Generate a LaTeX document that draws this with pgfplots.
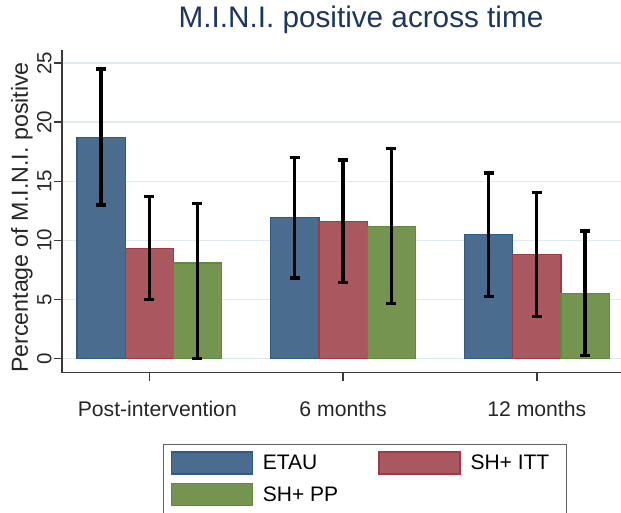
\documentclass[border=0pt]{standalone}
\usepackage{pgfplots}
\pgfplotsset{compat=1.18}
\usepackage{pgfplotstable}
\usepackage{fontspec}
\setmainfont{Liberation Sans}
\definecolor{bfill}{HTML}{4A6D8F}
\definecolor{bedge}{HTML}{2D5A86}
\definecolor{rfill}{HTML}{A9585F}
\definecolor{redge}{HTML}{A03A42}
\definecolor{gfill}{HTML}{75944F}
\definecolor{gedge}{HTML}{5E8A3E}
\definecolor{gridc}{HTML}{E1EBEF}
\definecolor{axisgray}{HTML}{3A3A3A}
\definecolor{titlec}{HTML}{1C3660}
\pgfplotsset{
  mylegend/.style={legend image code/.code={\draw[##1,line width=1.5pt] (0pt,-11pt) rectangle (81pt,11pt); \path (89pt,0pt);}},
  myerr/.style={
    error bars/y dir=both, error bars/y explicit,
    error bars/error bar style={line width=3.2pt, black},
    error bars/error mark options={rotate=90, mark size=5pt, line width=3.2pt, black}},
}
\pgfplotstableread{
x y ep em
0 18.7 5.8 5.7
1 11.93 5.07 5.1
2 10.5 5.2 5.22
}\etau
\pgfplotstableread{
x y ep em
0 9.3 4.4 4.3
1 11.62 5.18 5.19
2 8.8 5.28 5.21
}\itt
\pgfplotstableread{
x y ep em
0 8.1 5.0 8.1
1 11.2 6.54 6.55
2 5.5 5.3 5.25
}\pp
\begin{document}
\begin{tikzpicture}[x=1pt,y=1pt]
\path[use as bounding box] (0,0) rectangle (621,513);
\begin{axis}[
  at={(61.8pt,140.3pt)}, anchor=south west,
  scale only axis, width=559.2pt, height=322.7pt,
  xmin=-0.4516, xmax=2.4346, ymin=-1.18, ymax=26.1,
  axis lines*=left,
  axis line style={line width=1.5pt, color=axisgray},
  ybar=0pt, bar width=48.2pt,
  xtick={0,1,2},
  xticklabels={\hspace{16pt}Post-intervention,6 months,12 months},
  ytick={0,5,10,15,20,25},
  tick align=outside, major tick length=8pt,
  tick style={line width=1.5pt, color=axisgray},
  ymajorgrids, grid style={line width=1.5pt, color=gridc},
  /pgf/number format/assume math mode=true,
  tick label style={font=\fontsize{20.5}{23}\selectfont, color=black!85},
  yticklabel style={rotate=90, anchor=south, inner sep=2pt},
  xticklabel style={anchor=base, yshift=-36pt, font=\fontsize{21.2}{24}\selectfont},
  ylabel={Percentage of M.I.N.I. positive},
  ylabel style={at={(axis description cs:-0.0716,0.481)}, anchor=center, font=\fontsize{23.2}{26}\selectfont, color=black!85},
  title={M.I.N.I. positive across time},
  title style={at={(axis description cs:0.535,1.0526)}, anchor=base, font=\fontsize{29.7}{34}\selectfont, color=titlec},
  legend columns=2,
  legend style={at={(0.1806,-0.2199)}, anchor=north west, draw=axisgray!80, line width=1.5pt,
    font=\fontsize{21}{24}\selectfont, inner xsep=7pt, inner ysep=7pt,
    row sep=8pt,
    /tikz/every even column/.append style={column sep=38pt}},
  legend cell align=left,
]
\addplot[fill=bfill, draw=bedge, line width=1.2pt, mylegend, myerr] table[x=x,y=y,y error plus=ep,y error minus=em] {\etau};
\addlegendentry{ETAU}
\addplot[fill=rfill, draw=redge, line width=1.2pt, mylegend, myerr] table[x=x,y=y,y error plus=ep,y error minus=em] {\itt};
\addlegendentry{SH+ ITT\kern8pt\null}
\addplot[fill=gfill, draw=gedge, line width=1.2pt, mylegend, myerr] table[x=x,y=y,y error plus=ep,y error minus=em] {\pp};
\addlegendentry{SH+ PP}
\end{axis}
\end{tikzpicture}
\end{document}
